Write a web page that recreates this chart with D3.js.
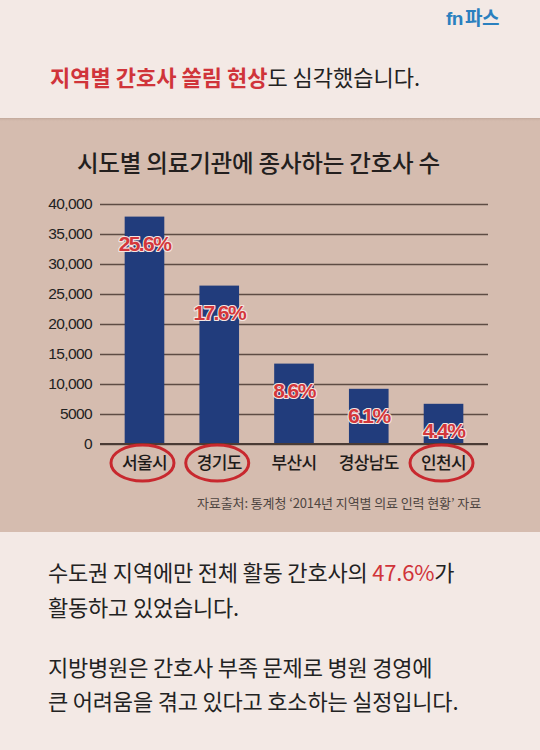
<!DOCTYPE html>
<html><head><meta charset="utf-8">
<script src="https://cdn.jsdelivr.net/npm/d3@7"></script>
<style>
html,body{margin:0;padding:0;background:#f3e9e5;}
svg{display:block;}
</style></head>
<body>
<script>
const categories = ["서울시","경기도","부산시","경상남도","인천시"];
const nurses = [37900, 26400, 13400, 9200, 6700];
const shares = ["25.6%","17.6%","8.6%","6.1%","4.4%"];
const circled = ["서울시","경기도","인천시"];
const tickValues = [0,5000,10000,15000,20000,25000,30000,35000,40000];
const tickLabels = ["0","5000","10,000","15,000","20,000","25,000","30,000","35,000","40,000"];

const KR = "'Noto Sans CJK KR','Noto Sans',sans-serif";
const W = 540, H = 750;
const svg = d3.select("body").append("svg").attr("width", W).attr("height", H);

svg.append("rect").attr("width", W).attr("height", H).attr("fill", "#f3e9e5");

// logo
const logo = svg.append("text").attr("x", 446).attr("y", 25)
  .attr("font-family", "'Liberation Sans',sans-serif").attr("font-weight", 700)
  .attr("font-size", 19).attr("fill", "#2a80bf").attr("letter-spacing", -0.5);
logo.append("tspan").text("fn");
logo.append("tspan").attr("font-family", KR).attr("font-size", 19).attr("dx", 2).text("파스");

// heading
const head = svg.append("text").attr("x", 50).attr("y", 86)
  .attr("font-family", KR).attr("font-size", 22).attr("letter-spacing", 0);
head.append("tspan").attr("fill", "#d0343a").attr("font-weight", 700).text("지역별 간호사 쏠림 현상");
head.append("tspan").attr("fill", "#222").attr("font-weight", 400).text("도 심각했습니다.");

// panel
const defs = svg.append("defs");
const grad = defs.append("linearGradient").attr("id", "sh").attr("x1", 0).attr("x2", 0).attr("y1", 0).attr("y2", 1);
grad.append("stop").attr("offset", 0).attr("stop-color", "#b39a8c").attr("stop-opacity", 0.6);
grad.append("stop").attr("offset", 1).attr("stop-color", "#d5bcaf").attr("stop-opacity", 0);
svg.append("rect").attr("x", 0).attr("y", 118).attr("width", W).attr("height", 414).attr("fill", "#d5bcaf");
svg.append("rect").attr("x", 0).attr("y", 118).attr("width", W).attr("height", 4).attr("fill", "url(#sh)");

// chart title
svg.append("text").attr("x", 258.5).attr("y", 172).attr("text-anchor", "middle")
  .attr("font-family", KR).attr("font-size", 23.5).attr("font-weight", 500)
  .attr("letter-spacing", -0.2).attr("fill", "#231f1e")
  .text("시도별 의료기관에 종사하는 간호사 수");

// scales
const x = d3.scaleBand().domain(categories).range([100, 488]).paddingInner(0.47).paddingOuter(0.33);
const y = d3.scaleLinear().domain([0, 40000]).range([444, 204]);

// grid via axis
const gAxis = svg.append("g").attr("transform", "translate(100,0)")
  .call(d3.axisLeft(y).tickValues(tickValues).tickSize(-388)
    .tickFormat((d, i) => tickLabels[i]).tickPadding(8));
gAxis.select(".domain").remove();
gAxis.selectAll(".tick line").attr("stroke", "#5e4c44").attr("stroke-width", 1.4);
gAxis.selectAll(".tick text").attr("font-family", "'Liberation Sans',sans-serif")
  .attr("font-size", 15.5).attr("fill", "#222").attr("letter-spacing", -0.6);

// bars
svg.append("g").selectAll("rect").data(categories).join("rect")
  .attr("x", d => x(d)).attr("width", x.bandwidth())
  .attr("y", (d, i) => y(nurses[i])).attr("height", (d, i) => y(0) - y(nurses[i]))
  .attr("fill", "#213c7c");

// baseline
svg.append("line").attr("x1", 100).attr("x2", 488).attr("y1", y(0)).attr("y2", y(0))
  .attr("stroke", "#4a3b35").attr("stroke-width", 1.8);

// share labels
svg.append("g").selectAll("text").data(categories).join("text")
  .attr("x", d => x(d) + x.bandwidth() / 2)
  .attr("y", (d, i) => y(nurses[i]) + 34)
  .attr("text-anchor", "middle")
  .attr("font-family", "'Liberation Sans',sans-serif").attr("font-weight", 700)
  .attr("font-size", 21).attr("letter-spacing", -1.6)
  .attr("fill", "#d3373c").attr("stroke", "#f4e6e2").attr("stroke-width", 2.2)
  .attr("paint-order", "stroke").attr("stroke-linejoin", "round")
  .text((d, i) => shares[i]);

// category labels
svg.append("g").selectAll("text").data(categories).join("text")
  .attr("x", d => x(d) + x.bandwidth() / 2).attr("y", 469)
  .attr("text-anchor", "middle").attr("font-family", KR).attr("font-size", 17)
  .attr("font-weight", 500).attr("letter-spacing", -0.6).attr("fill", "#1e1b1a")
  .text(d => d);

// ellipses
svg.append("g").selectAll("ellipse").data(circled).join("ellipse")
  .attr("cx", d => x(d) + x.bandwidth() / 2 - 2).attr("cy", 463)
  .attr("rx", 31.5).attr("ry", 18)
  .attr("fill", "none").attr("stroke", "#c8282e").attr("stroke-width", 3);

// source
svg.append("text").attr("x", 481).attr("y", 508).attr("text-anchor", "end")
  .attr("font-family", KR).attr("font-size", 13).attr("letter-spacing", -0.1)
  .attr("fill", "#4e4541")
  .text("자료출처: 통계청 ‘2014년 지역별 의료 인력 현황’ 자료");

// bottom text
const lines = [
  {y: 581, parts: [["수도권 지역에만 전체 활동 간호사의 ", "#222"], ["47.6%", "#d0343a"], ["가", "#222"]]},
  {y: 616, parts: [["활동하고 있었습니다.", "#222"]]},
  {y: 676, parts: [["지방병원은 간호사 부족 문제로 병원 경영에", "#222"]]},
  {y: 710, parts: [["큰 어려움을 겪고 있다고 호소하는 실정입니다.", "#222"]]}
];
lines.forEach(l => {
  const t = svg.append("text").attr("x", 48).attr("y", l.y)
    .attr("font-family", KR).attr("font-size", 22).attr("letter-spacing", -0.2);
  l.parts.forEach(p => t.append("tspan").attr("fill", p[1]).text(p[0]));
});
</script>
</body></html>
